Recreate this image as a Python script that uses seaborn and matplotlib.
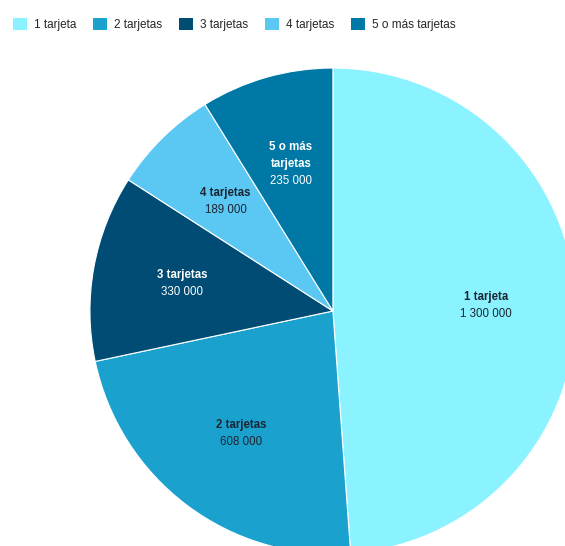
import matplotlib
matplotlib.use("Agg")
import matplotlib.pyplot as plt
from matplotlib.patches import Patch
import numpy as np
import seaborn as sns

categories = ["1 tarjeta", "2 tarjetas", "3 tarjetas", "4 tarjetas", "5 o más tarjetas"]
slice_labels = ["1 tarjeta", "2 tarjetas", "3 tarjetas", "4 tarjetas", "5 o más\ntarjetas"]
values = [1300000, 608000, 330000, 189000, 235000]
value_labels = ["1 300 000", "608 000", "330 000", "189 000", "235 000"]
colors = ["#8AF3FF", "#1AA1CE", "#004C74", "#5BC8F4", "#0078A6"]
text_colors = ["#1b2633", "#1b2633", "#ffffff", "#1b2633", "#ffffff"]

sns.set_style("white")
plt.rcParams["font.family"] = ["Liberation Sans", "DejaVu Sans"]
palette = sns.color_palette(colors)

fig = plt.figure(figsize=(5.65, 5.46), dpi=100)
ax = fig.add_axes([0, 0, 1, 1])
wedges, _ = ax.pie(values, colors=palette, startangle=90, counterclock=False,
                   radius=1.0, wedgeprops=dict(edgecolor="white", linewidth=0.8))
ax.set_aspect("equal")
ax.set_xlim(-1.370, 0.955)
ax.set_ylim(-0.967, 1.280)
ax.axis("off")

line_h = 0.07  # vertical step between label lines, in data units
for w, name, val, tc in zip(wedges, slice_labels, value_labels, text_colors):
    mid = np.deg2rad((w.theta1 + w.theta2) / 2)
    r = 0.63
    x, y = r * np.cos(mid), r * np.sin(mid)
    lines = name.split("\n")
    n = len(lines) + 1
    top = y + line_h * (n - 1) / 2
    for i, ln in enumerate(lines):
        ax.text(x, top - i * line_h, ln, ha="center", va="center", fontsize=8.3,
                fontweight="bold", color=tc)
    ax.text(x, top - len(lines) * line_h, val, ha="center", va="center",
            fontsize=8.3, color=tc)

handles = [Patch(facecolor=c, edgecolor="none") for c in palette]
fig.legend(handles, categories, loc="upper left", bbox_to_anchor=(0.015, 0.975),
           ncol=5, frameon=False, fontsize=8.5, handlelength=1.15, handleheight=1.15,
           handletextpad=0.6, columnspacing=1.45, borderaxespad=0)

fig.savefig("out.png", dpi=100)
